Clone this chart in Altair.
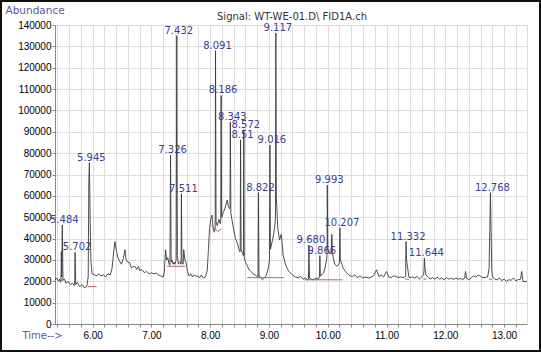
import altair as alt
import pandas as pd

# ---- chromatogram trace (time in min, abundance) ----
trace = [
    (5.36, 20500), (5.39, 21500), (5.42, 20000), (5.44, 21000), (5.455, 19500),
    (5.462, 20500), (5.468, 34000), (5.474, 22000), (5.484, 46400), (5.496, 20500),
    (5.52, 21000), (5.55, 19000), (5.58, 20000), (5.62, 18500), (5.66, 19000),
    (5.69, 18000), (5.695, 18500), (5.702, 33500), (5.712, 18500), (5.74, 19500),
    (5.78, 17500), (5.82, 18500), (5.86, 17000), (5.90, 17500), (5.925, 22000),
    (5.935, 66000), (5.945, 75500), (5.958, 50000), (5.97, 30000), (5.99, 23500),
    (6.03, 23000), (6.07, 22500), (6.10, 23500), (6.14, 22500), (6.18, 23000),
    (6.22, 22000), (6.26, 23500), (6.30, 23000), (6.33, 26000), (6.36, 34000),
    (6.38, 38600), (6.40, 35000), (6.43, 31000), (6.46, 29300), (6.49, 28000),
    (6.52, 30500), (6.55, 34800), (6.57, 30000), (6.60, 29000), (6.63, 28700),
    (6.66, 26300), (6.69, 26800), (6.72, 27000), (6.75, 25500), (6.78, 27000),
    (6.80, 25000), (6.84, 25500), (6.88, 24000), (6.92, 24600), (6.96, 23500),
    (7.00, 24000), (7.04, 23500), (7.08, 23800), (7.12, 23000), (7.16, 22500),
    (7.20, 22000), (7.22, 24000), (7.24, 34800), (7.26, 30000), (7.28, 31000),
    (7.30, 28000), (7.315, 27500), (7.326, 79000), (7.336, 29000), (7.35, 30000),
    (7.37, 28000), (7.39, 29000), (7.40, 28000), (7.422, 30000), (7.432, 135000),
    (7.442, 32000), (7.46, 28000), (7.48, 29000), (7.50, 28500), (7.505, 28000),
    (7.511, 61000), (7.52, 29000), (7.54, 28000), (7.55, 34800), (7.57, 30000),
    (7.59, 28700), (7.61, 25000), (7.64, 22500), (7.67, 23500), (7.70, 22000),
    (7.73, 23000), (7.76, 22300), (7.79, 22500), (7.82, 21600), (7.85, 23000),
    (7.88, 21600), (7.92, 22000), (7.95, 25000), (7.97, 34800), (7.99, 45000),
    (8.01, 49000), (8.03, 51000), (8.05, 45000), (8.07, 43000), (8.085, 45000),
    (8.091, 128000), (8.10, 48000), (8.12, 46000), (8.15, 49000), (8.17, 47000),
    (8.18, 48000), (8.186, 107000), (8.195, 50000), (8.22, 52000), (8.25, 54000),
    (8.27, 56000), (8.29, 58000), (8.31, 55000), (8.33, 54000), (8.337, 54000),
    (8.343, 94600), (8.352, 52000), (8.37, 48800), (8.40, 44000), (8.43, 40000),
    (8.46, 38000), (8.48, 36000), (8.50, 34000), (8.511, 34000), (8.517, 86200),
    (8.525, 35000), (8.55, 33000), (8.565, 32000), (8.572, 91000), (8.58, 31000),
    (8.60, 29000), (8.63, 27500), (8.66, 25400), (8.70, 24500), (8.73, 23500),
    (8.76, 23000), (8.79, 22500), (8.81, 22000), (8.815, 22000), (8.822, 61500),
    (8.83, 23000), (8.86, 21500), (8.89, 20700), (8.92, 21500), (8.95, 22500),
    (8.98, 25000), (9.00, 28000), (9.008, 30000), (9.016, 83800), (9.025, 35000),
    (9.05, 38000), (9.08, 42000), (9.10, 46000), (9.11, 50000), (9.117, 136300),
    (9.125, 60000), (9.15, 45000), (9.18, 39400), (9.21, 42000), (9.24, 32400),
    (9.28, 28000), (9.32, 25400), (9.36, 24000), (9.40, 23000), (9.45, 22000),
    (9.50, 21700), (9.54, 22300), (9.58, 21000), (9.62, 21500), (9.66, 20700),
    (9.672, 21000), (9.680, 37000), (9.69, 21500), (9.72, 21000), (9.76, 20700),
    (9.80, 21500), (9.84, 21000), (9.858, 22000), (9.866, 32000), (9.875, 22500),
    (9.90, 23000), (9.93, 24000), (9.96, 27000), (9.98, 30000), (9.988, 32000),
    (9.993, 65000), (10.00, 35000), (10.03, 33000), (10.06, 33000), (10.07, 42000),
    (10.08, 33000), (10.12, 28000), (10.16, 27000), (10.19, 28000), (10.20, 29000),
    (10.207, 45000), (10.215, 30000), (10.24, 28000), (10.26, 26300), (10.30, 24600),
    (10.34, 23500), (10.38, 22500), (10.42, 22300), (10.46, 23000), (10.50, 21700),
    (10.55, 22500), (10.60, 21500), (10.65, 22000), (10.70, 21500), (10.74, 22000),
    (10.78, 22500), (10.83, 25400), (10.87, 22300), (10.91, 23000), (10.95, 22000),
    (11.00, 24600), (11.04, 22000), (11.08, 21700), (11.12, 22500), (11.16, 22300),
    (11.20, 21800), (11.24, 22000), (11.28, 21700), (11.31, 22000), (11.325, 22500),
    (11.332, 38600), (11.34, 30000), (11.36, 26300), (11.38, 22000), (11.40, 21700),
    (11.44, 22000), (11.48, 21500), (11.52, 22300), (11.56, 21000), (11.60, 22000),
    (11.63, 23000), (11.638, 25000), (11.644, 30900), (11.655, 26000), (11.67, 23000),
    (11.70, 22300), (11.74, 21000), (11.78, 21700), (11.82, 21000), (11.86, 22000),
    (11.90, 21000), (11.94, 21500), (11.98, 20700), (12.02, 21700), (12.06, 21000),
    (12.10, 21500), (12.14, 20800), (12.18, 21500), (12.22, 21000), (12.26, 21300),
    (12.30, 20800), (12.33, 21500), (12.345, 24600), (12.36, 21500), (12.40, 20700),
    (12.44, 21500), (12.48, 22500), (12.52, 22000), (12.56, 23000), (12.60, 22300),
    (12.64, 21700), (12.68, 21800), (12.72, 22000), (12.745, 26000), (12.758, 45000),
    (12.768, 61500), (12.778, 45000), (12.79, 26000), (12.80, 22300), (12.84, 21000),
    (12.88, 20700), (12.92, 21500), (12.96, 20300), (13.00, 21000), (13.04, 19900),
    (13.08, 20700), (13.12, 20500), (13.16, 21500), (13.20, 20200), (13.24, 20800),
    (13.28, 21000), (13.30, 24600), (13.32, 20000), (13.36, 19800), (13.39, 20000),
]
time_min = [p[0] for p in trace]
abundance = [p[1] for p in trace]

# ---- labelled peaks ----
peak_labels = ["5.484", "5.702", "5.945", "7.326", "7.432", "7.511", "8.091",
               "8.186", "8.343", "8.51", "8.572", "8.822", "9.016", "9.117",
               "9.680", "9.866", "9.993", "10.207", "11.332", "11.644", "12.768"]
peak_times = [5.484, 5.702, 5.945, 7.326, 7.432, 7.511, 8.091,
              8.186, 8.343, 8.517, 8.572, 8.822, 9.016, 9.117,
              9.680, 9.866, 9.993, 10.207, 11.332, 11.644, 12.768]
peak_heights = [46400, 33500, 75500, 79000, 135000, 61000, 128000,
                107000, 94600, 86200, 91000, 61500, 83800, 136300,
                37000, 32000, 65000, 45000, 38600, 30900, 61500]

# ---- integration baselines (brown segments) ----
seg_t1 = [5.462, 5.695, 5.92, 7.27, 8.02, 8.135, 8.63, 9.61, 11.32, 11.63, 12.74]
seg_a1 = [20500, 18500, 17500, 27000, 46000, 43300, 21700, 20700, 21000, 21000, 21000]
seg_t2 = [5.496, 5.712, 6.07, 7.57, 8.135, 8.19, 9.25, 10.25, 11.38, 11.68, 12.80]
seg_a2 = [20500, 18500, 17500, 27000, 43300, 44500, 21700, 20700, 21000, 21000, 21000]

x_ticks = [5.4, 5.6, 5.8, 6.0, 6.2, 6.4, 6.6, 6.8, 7.0, 7.2, 7.4, 7.6, 7.8, 8.0,
           8.2, 8.4, 8.6, 8.8, 9.0, 9.2, 9.4, 9.6, 9.8, 10.0, 10.2, 10.4, 10.6,
           10.8, 11.0, 11.2, 11.4, 11.6, 11.8, 12.0, 12.2, 12.4, 12.6, 12.8,
           13.0, 13.2]
y_ticks = [0, 10000, 20000, 30000, 40000, 50000, 60000, 70000, 80000, 90000,
           100000, 110000, 120000, 130000, 140000]

signal_title = "Signal: WT-WE-01.D\\ FID1A.ch"

FONT = "DejaVu Sans"
xs = alt.Scale(domain=[5.36, 13.39], nice=False, zero=False)
ys = alt.Scale(domain=[0, 140000], nice=False)

trace_df = pd.DataFrame({"t": time_min, "a": abundance})
peaks_df = pd.DataFrame({"label": peak_labels, "t": peak_times, "a": peak_heights})
seg_df = pd.DataFrame({"t1": seg_t1, "a1": seg_a1, "t2": seg_t2, "a2": seg_a2})

x_axis = alt.Axis(values=x_ticks,
                  labelExpr="abs(datum.value - round(datum.value)) < 0.001 ? format(datum.value, '.2f') : ''",
                  title="Time-->", titleX=-33, titleY=11, titleAlign="left",
                  titleBaseline="middle", titleFont=FONT, titleFontSize=10,
                  titleFontWeight="normal", titleColor="#5a5a9a",
                  tickSize=3, labelPadding=3, labelFlush=False, labelOverlap=False)
y_axis = alt.Axis(values=y_ticks, format="d", title="Abundance", titleAngle=0,
                  titleX=-50, titleY=-15, titleAlign="left", titleBaseline="middle",
                  titleFont=FONT, titleFontSize=10.5, titleFontWeight="normal",
                  titleColor="#5a5a9a", tickSize=3, labelPadding=1,
                  labelOverlap=False, labelFlush=False)

line = alt.Chart(trace_df).mark_line(color="#3a3a3a", strokeWidth=0.9).encode(
    x=alt.X("t:Q", scale=xs, axis=x_axis),
    y=alt.Y("a:Q", scale=ys, axis=y_axis),
)

segs = alt.Chart(seg_df).mark_rule(color="#a85a4a", strokeWidth=0.9).encode(
    x=alt.X("t1:Q", scale=xs, axis=x_axis), y=alt.Y("a1:Q", scale=ys, axis=y_axis),
    x2="t2:Q", y2="a2:Q",
)

labels = alt.Chart(peaks_df).mark_text(
    align="center", baseline="alphabetic", dx=2, dy=-2,
    font=FONT, fontSize=10, color="#3d3d8f",
).encode(
    x=alt.X("t:Q", scale=xs, axis=x_axis), y=alt.Y("a:Q", scale=ys, axis=y_axis),
    text="label:N",
)

one_row = pd.DataFrame({"k": [0]})

title_mark = alt.Chart(one_row).mark_text(
    text=signal_title, align="center", baseline="alphabetic",
    font=FONT, fontSize=10, color="#333333",
).encode(x=alt.value(237), y=alt.value(-5))

frame = alt.Chart(one_row).mark_rect(
    fill=None, fillOpacity=0, stroke="#111111", strokeWidth=2,
).encode(
    x=alt.value(-54), x2=alt.value(485), y=alt.value(-24), y2=alt.value(326),
)

chart = alt.layer(line, segs, labels, title_mark, frame).properties(
    width=472, height=299,
    autosize=alt.AutoSizeParams(type="none"),
    padding={"left": 55, "top": 25, "right": 14, "bottom": 28},
).configure_view(strokeWidth=0, stroke="transparent").configure_axis(
    grid=False, domainColor="#444444", tickColor="#444444",
    labelFont=FONT, labelFontSize=9.5, labelColor="#555555",
    labelOverlap=False,
).configure(background="white")

chart.save("out.html", embed_options={"renderer": "svg", "actions": False})
